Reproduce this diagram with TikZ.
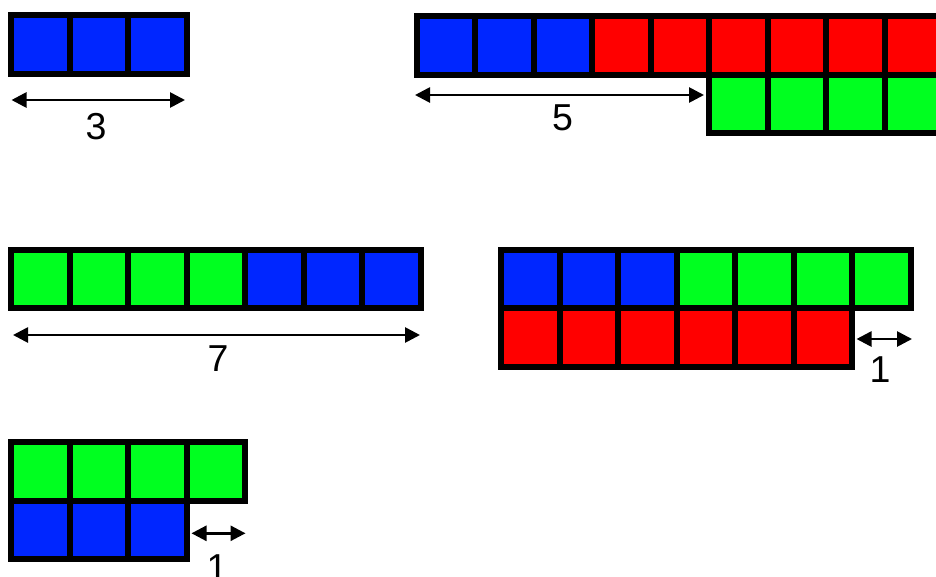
\documentclass[tikz,border=0pt]{standalone}
\usepackage{fontspec}
\setmainfont{Liberation Sans}
\usetikzlibrary{arrows.meta}
\definecolor{cblue}{RGB}{0,38,255}
\definecolor{cgreen}{RGB}{0,255,32}
\definecolor{cred}{RGB}{255,0,0}
\tikzset{
  cell/.style={draw=black, line width=6pt, minimum size=58.5pt, inner sep=0pt, outer sep=0pt},
  dim/.style={line width=2.7pt, {Triangle[length=15pt,width=15pt]}-{Triangle[length=15pt,width=15pt]}},
  lbl/.style={inner sep=0pt, font=\fontsize{37.5}{37.5}\selectfont}
}
\begin{document}
\begin{tikzpicture}[x=1pt,y=-1pt]
\clip (0,0) rectangle (936,576);
\fill[white] (0,0) rectangle (936,576);
% group A: 3 blue
\foreach \i in {0,1,2} \node[cell,fill=cblue] (A\i) at ({11+29.25+58.5*\i},44.25) {};
\coordinate (A3l) at (11.5,100);
\coordinate (A3r) at (185,100);
\draw[dim] (A3l) -- (A3r);
\node[lbl] (A3t) at (96,127) {3};
% group B: 3 blue + 6 red, green row below
\foreach \i in {0,1,2} \node[cell,fill=cblue] (B\i) at ({416.5+29.25+58.5*\i},45.25) {};
\foreach \i in {3,...,8} \node[cell,fill=cred] (B\i) at ({416.5+29.25+58.5*\i},45.25) {};
\foreach \i in {5,...,8} \node[cell,fill=cgreen] (G\i) at ({416.5+29.25+58.5*\i},103.75) {};
\coordinate (B5l) at (415,95);
\coordinate (B5r) at (704,95);
\draw[dim] (B5l) -- (B5r);
\node[lbl] (B5t) at (562.5,118) {5};
% group C: 4 green + 3 blue
\foreach \i in {0,...,3} \node[cell,fill=cgreen] (C\i) at ({11.3+29.25+58.5*\i},278.95) {};
\foreach \i in {4,5,6} \node[cell,fill=cblue] (C\i) at ({11.3+29.25+58.5*\i},278.95) {};
\coordinate (C7l) at (13,335);
\coordinate (C7r) at (420,335);
\draw[dim] (C7l) -- (C7r);
\node[lbl] (C7t) at (218,359) {7};
% group D: 3 blue + 4 green, 6 red below
\foreach \i in {0,1,2} \node[cell,fill=cblue] (D\i) at ({501.3+29.25+58.5*\i},278.95) {};
\foreach \i in {3,...,6} \node[cell,fill=cgreen] (D\i) at ({501.3+29.25+58.5*\i},278.95) {};
\foreach \i in {0,...,5} \node[cell,fill=cred] (R\i) at ({501.3+29.25+58.5*\i},337.45) {};
\coordinate (D1l) at (856.5,339);
\coordinate (D1r) at (912,339);
\draw[dim] (D1l) -- (D1r);
\node[lbl] (D1t) at (880,370) {1};
% group E: 4 green, 3 blue below
\foreach \i in {0,...,3} \node[cell,fill=cgreen] (E\i) at ({11.3+29.25+58.5*\i},471.25) {};
\foreach \i in {0,1,2} \node[cell,fill=cblue] (F\i) at ({11.3+29.25+58.5*\i},529.75) {};
\coordinate (E1l) at (191.5,533.3);
\coordinate (E1r) at (245.5,533.3);
\draw[dim] (E1l) -- (E1r);
\node[lbl] (E1t) at (217,568) {1};
\end{tikzpicture}
\end{document}
